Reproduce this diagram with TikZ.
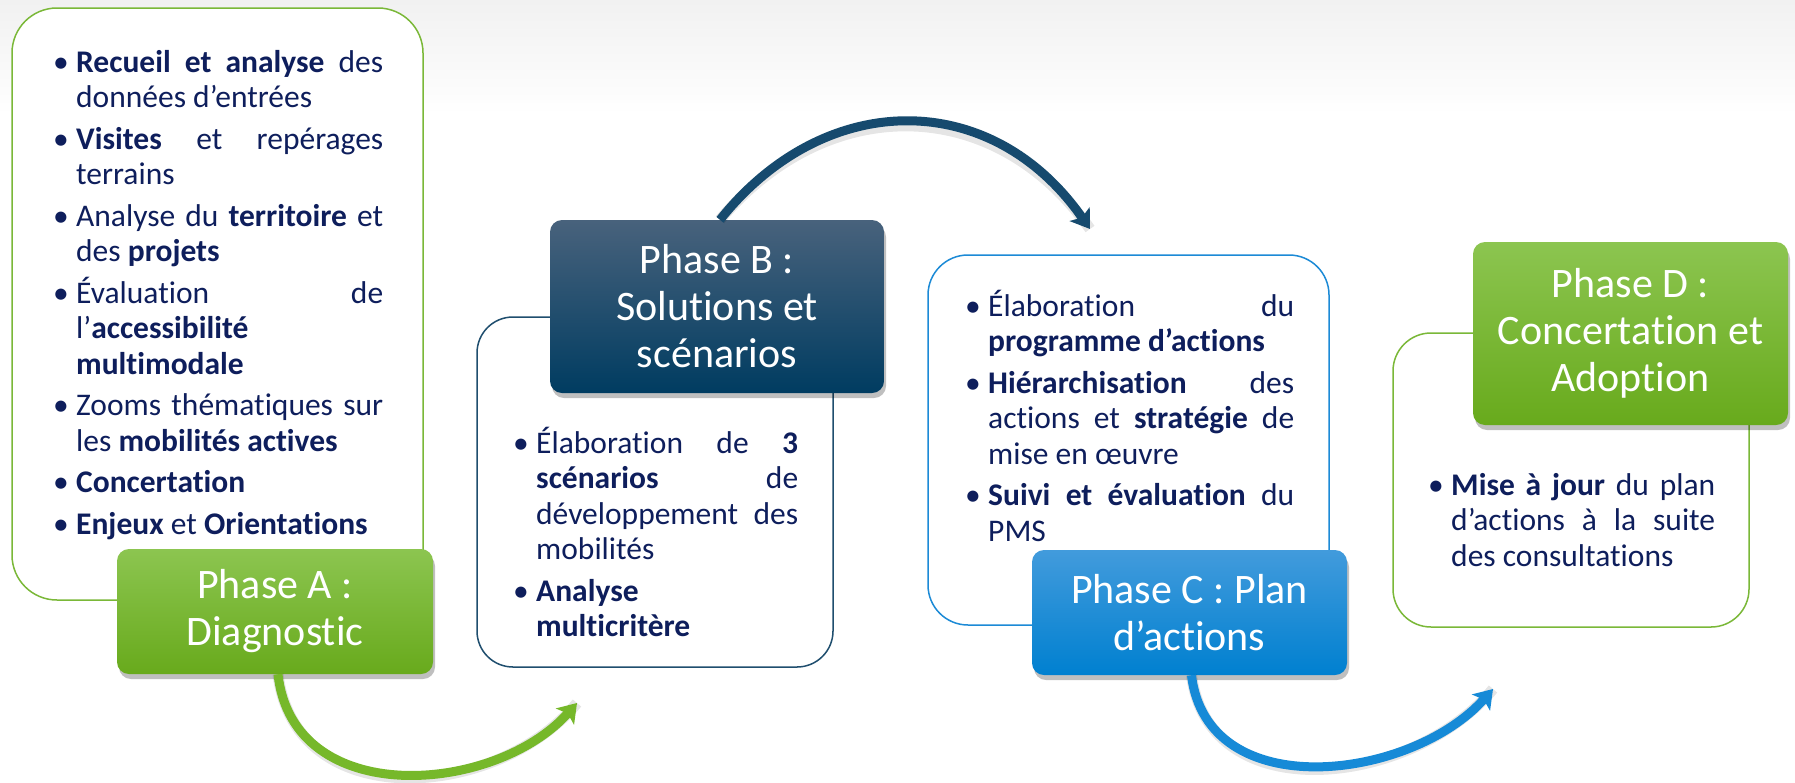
\documentclass[tikz,border=0pt]{standalone}
\usepackage{fontspec}
\setmainfont{Carlito}[Ligatures=NoCommon]
\usetikzlibrary{arrows.meta,shadows}
\definecolor{navy}{RGB}{14,30,92}
\definecolor{grA}{RGB}{122,184,56}
\definecolor{grTop}{RGB}{140,197,80}
\definecolor{grBot}{RGB}{104,170,28}
\definecolor{dbLine}{RGB}{31,78,110}
\definecolor{dbTop}{RGB}{72,98,124}
\definecolor{dbBot}{RGB}{0,60,97}
\definecolor{lbLine}{RGB}{28,138,214}
\definecolor{lbTop}{RGB}{66,155,220}
\definecolor{lbBot}{RGB}{0,128,208}
\definecolor{arrG}{RGB}{118,184,42}
\definecolor{arrDB}{RGB}{22,74,110}
\definecolor{arrLB}{RGB}{22,138,215}
\definecolor{topgrey}{RGB}{241,241,241}
\newlength\colw
\newcommand\bul{\llap{\hbox to 24pt{\hskip1pt\textbullet\hfil}}}
\newcommand\bjline[1]{\hbox to \colw{\bul #1}}
\newcommand\blline[1]{\hbox to \colw{\bul #1\hfil}}
\newcommand\jline[1]{\hbox to \colw{#1}}
\newcommand\lline[1]{\hbox to \colw{#1\hfil}}
\newcommand\itemgap{\vskip 6pt}
\newcommand\bodyfont{\fontsize{31.5}{35.5}\selectfont}
\begin{document}
\begin{tikzpicture}[x=1pt,y=-1pt,
  outbox/.style={draw, line width=1.5pt, fill=white, rounded corners=40pt, inner sep=0pt},
  phase/.style={rounded corners=12pt, inner sep=0pt, align=center, text=white,
    font=\fontsize{42}{47}\selectfont,
    drop shadow={shadow xshift=2pt, shadow yshift=-5pt, opacity=0.25, fill=black}},
  phaseG/.style={phase, top color=grTop, bottom color=grBot},
  phaseDB/.style={phase, top color=dbTop, bottom color=dbBot},
  phaseLB/.style={phase, top color=lbTop, bottom color=lbBot},
  body/.style={inner sep=0pt, anchor=base west, text=navy},
  arr/.style={line width=9pt, -{Stealth[length=18pt,width=24pt,inset=4pt]}},
  arrshadow/.style={line width=11pt, black, opacity=0.10, shift={(2,5)}}
]
\useasboundingbox (0,0) rectangle (1795,782);
\fill[white] (0,0) rectangle (1795,782);
\shade[top color=topgrey, bottom color=white] (0,0) rectangle (1795,115);

% outline boxes
\node[outbox, draw=grA, minimum width=411pt, minimum height=592pt, rounded corners=45pt] (boxA) at (217.5,304) {};
\node[outbox, draw=dbLine, minimum width=356pt, minimum height=350pt, rounded corners=36pt] (boxB) at (655,492) {};
\node[outbox, draw=lbLine, minimum width=401pt, minimum height=370pt] (boxC) at (1128.5,440) {};
\node[outbox, draw=grA, minimum width=356pt, minimum height=294pt, rounded corners=38pt] (boxD) at (1571,480) {};

% body texts
\node[body] (txtA) at (76,72) {\vtop{\bodyfont\colw=307pt
  \bjline{\textbf{Recueil et analyse} des}
  \lline{données d’entrées}
  \itemgap
  \bjline{\textbf{Visites} et repérages}
  \lline{terrains}
  \itemgap
  \bjline{Analyse du \textbf{territoire} et}
  \lline{des \textbf{projets}}
  \itemgap
  \bjline{Évaluation de}
  \lline{l’\textbf{accessibilité}}
  \lline{\textbf{multimodale}}
  \itemgap
  \bjline{Zooms thématiques sur}
  \lline{les \textbf{mobilités actives}}
  \itemgap
  \blline{\textbf{Concertation}}
  \itemgap
  \blline{\textbf{Enjeux} et \textbf{Orientations}}}};

\node[body] (txtB) at (536,453) {\vtop{\bodyfont\colw=262pt
  \bjline{Élaboration de \textbf{3}}
  \jline{\textbf{scénarios} de}
  \jline{développement des}
  \lline{mobilités}
  \itemgap
  \blline{\textbf{Analyse}}
  \lline{\textbf{multicritère}}}};

\node[body] (txtC) at (988,316) {\vtop{\bodyfont\colw=306pt
  \bjline{Élaboration du}
  \lline{\textbf{programme d’actions}}
  \itemgap
  \bjline{\textbf{Hiérarchisation} des}
  \jline{actions et \textbf{stratégie} de}
  \lline{mise en œuvre}
  \itemgap
  \bjline{\textbf{Suivi et évaluation} du}
  \lline{PMS}}};

\node[body] (txtD) at (1451,495) {\vtop{\bodyfont\colw=264pt
  \bjline{\textbf{Mise à jour} du plan}
  \jline{d’actions à la suite}
  \lline{des consultations}}};

% phase boxes
\node[phaseG, minimum width=316pt, minimum height=125pt] (phA) at (275,611.5) {Phase A :\\Diagnostic};
\node[phaseDB, minimum width=334pt, minimum height=173pt] (phB) at (717,306.5) {Phase B :\\Solutions et\\scénarios};
\node[phaseLB, minimum width=315pt, minimum height=125pt] (phC) at (1189.5,612.5) {Phase C : Plan\\d’actions};
\node[phaseG, minimum width=315pt, minimum height=183pt] (phD) at (1630.5,333.5) {Phase D :\\Concertation et\\Adoption};

% arrow ends
\coordinate (tAB) at (577,703);
\coordinate (tBC) at (1090,229);
\coordinate (tCD) at (1493,689);

% arrow shadows
\draw[arrshadow] ([xshift=3pt]phA.south) .. controls (293,810) and (495,795) .. (tAB);
\draw[arrshadow] ([xshift=3pt]phB.north) .. controls (825,88) and (992,88) .. (tBC);
\draw[arrshadow] ([xshift=2pt]phC.south) .. controls (1207,806) and (1411,781) .. (tCD);

% arrows
\draw[arr, arrG] ([xshift=3pt]phA.south) .. controls (293,810) and (495,795) .. (tAB);
\draw[arr, arrDB] ([xshift=3pt]phB.north) .. controls (825,88) and (992,88) .. (tBC);
\draw[arr, arrLB] ([xshift=2pt]phC.south) .. controls (1207,806) and (1411,781) .. (tCD);
\end{tikzpicture}
\end{document}
